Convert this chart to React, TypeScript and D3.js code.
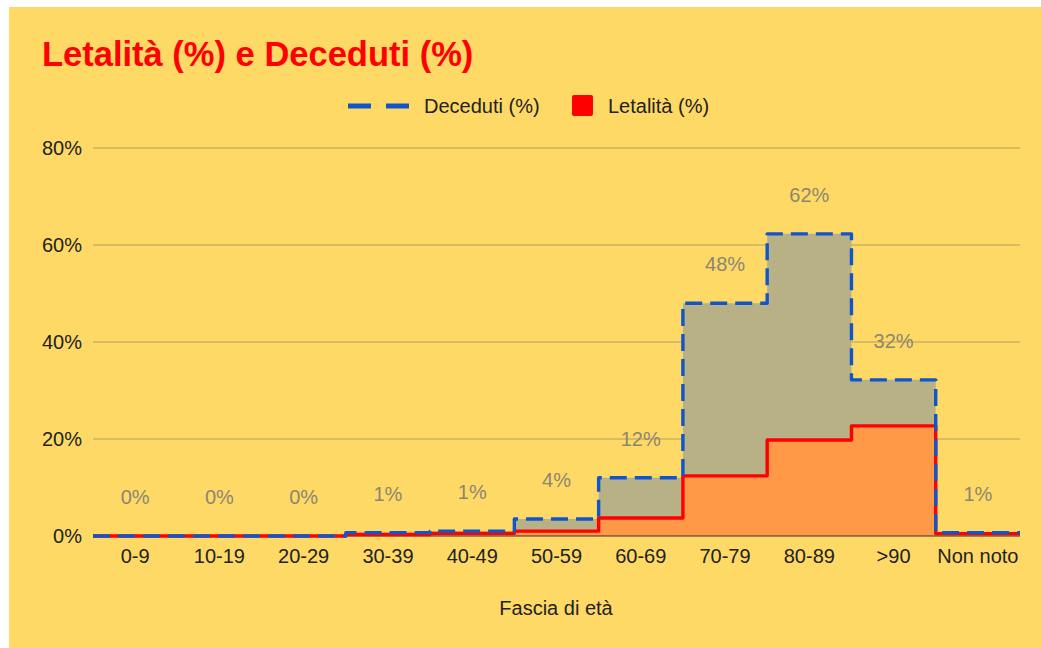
import React from "react";
import * as d3 from "d3";

const categories = ["0-9", "10-19", "20-29", "30-39", "40-49", "50-59", "60-69", "70-79", "80-89", ">90", "Non noto"];
const deceduti = [0, 0, 0, 0.7, 1.0, 3.5, 12.0, 48.0, 62.3, 32.2, 0.7];
const letalita = [0, 0, 0, 0.3, 0.55, 1.0, 3.7, 12.4, 19.8, 22.7, 0.5];
const decedutiLabels = ["0%", "0%", "0%", "1%", "1%", "4%", "12%", "48%", "62%", "32%", "1%"];
const yTicks = [0, 20, 40, 60, 80];

const W = 1041;
const H = 648;
const left = 93;
const right = 1020;
const top = 148;
const bottom = 536;

export default function App() {
  const x = d3.scaleBand<string>().domain(categories).range([left, right]).padding(0);
  const y = d3.scaleLinear().domain([0, 80]).range([bottom, top]);

  const stepPts = (vals: number[]): [number, number][] => {
    const pts: [number, number][] = categories.map((c, i) => [x(c)!, y(vals[i])]);
    pts.push([right, y(vals[vals.length - 1])]);
    return pts;
  };

  const area = d3
    .area<[number, number]>()
    .x((d) => d[0])
    .y0(y(0))
    .y1((d) => d[1])
    .curve(d3.curveStepAfter);
  const line = d3
    .line<[number, number]>()
    .x((d) => d[0])
    .y((d) => d[1])
    .curve(d3.curveStepAfter);

  const dPts = stepPts(deceduti);
  const lPts = stepPts(letalita);
  const font = "'Liberation Sans', Arial, sans-serif";
  const fs = 20;

  return (
    <svg
      width={W}
      height={H}
      style={{ position: "absolute", left: 0, top: 0, display: "block" }}
    >
      <rect x={0} y={0} width={W} height={H} fill="#ffffff" />
      <rect x={9} y={7} width={W - 9} height={H - 7} fill="#FFD966" />
      <text
        x={42}
        y={66}
        fill="#FF0000"
        fontFamily={font}
        fontWeight="bold"
        fontSize={34.5}
      >
        Letalità (%) e Deceduti (%)
      </text>

      {/* legend */}
      <line x1={348} x2={409} y1={106} y2={106} stroke="#1155CC" strokeWidth={5} strokeDasharray="23,15" />
      <text x={424} y={113} fontFamily={font} fontSize={fs} fill="#222">
        Deceduti (%)
      </text>
      <rect x={572} y={95} width={21} height={21} rx={2} fill="#FF0000" />
      <text x={608} y={113} fontFamily={font} fontSize={fs} fill="#222">
        Letalità (%)
      </text>

      {/* gridlines */}
      {yTicks.map((t) => (
        <g key={t}>
          {t > 0 && (
            <line x1={left} x2={right} y1={y(t)} y2={y(t)} stroke="#B3A05E" strokeWidth={1} />
          )}
          <text
            x={82}
            y={y(t)}
            dy="0.36em"
            textAnchor="end"
            fontFamily={font}
            fontSize={fs}
            fill="#222"
          >
            {t}%
          </text>
        </g>
      ))}

      {/* areas */}
      <path d={area(dPts)!} fill="#B8B185" />
      <path d={area(lPts)!} fill="#FF9847" />

      {/* baseline */}
      <line x1={left} x2={right} y1={y(0)} y2={y(0)} stroke="#333" strokeWidth={1.2} />

      {/* lines */}
      <path d={line(lPts)!} fill="none" stroke="#FF0000" strokeWidth={3.4} strokeLinejoin="round" />
      <path
        d={line(dPts)!}
        fill="none"
        stroke="#1155CC"
        strokeWidth={3.4}
        strokeLinejoin="round"
        strokeDasharray="17,8"
      />

      {/* data labels */}
      {categories.map((c, i) => (
        <text
          key={c}
          x={x(c)! + x.bandwidth() / 2}
          y={y(deceduti[i]) - 32}
          textAnchor="middle"
          fontFamily={font}
          fontSize={fs}
          fill="#8C8670"
        >
          {decedutiLabels[i]}
        </text>
      ))}

      {/* x labels */}
      {categories.map((c) => (
        <text
          key={c}
          x={x(c)! + x.bandwidth() / 2}
          y={563}
          textAnchor="middle"
          fontFamily={font}
          fontSize={fs}
          fill="#222"
        >
          {c}
        </text>
      ))}
      <text x={556} y={615} textAnchor="middle" fontFamily={font} fontSize={fs} fill="#222">
        Fascia di età
      </text>
    </svg>
  );
}
